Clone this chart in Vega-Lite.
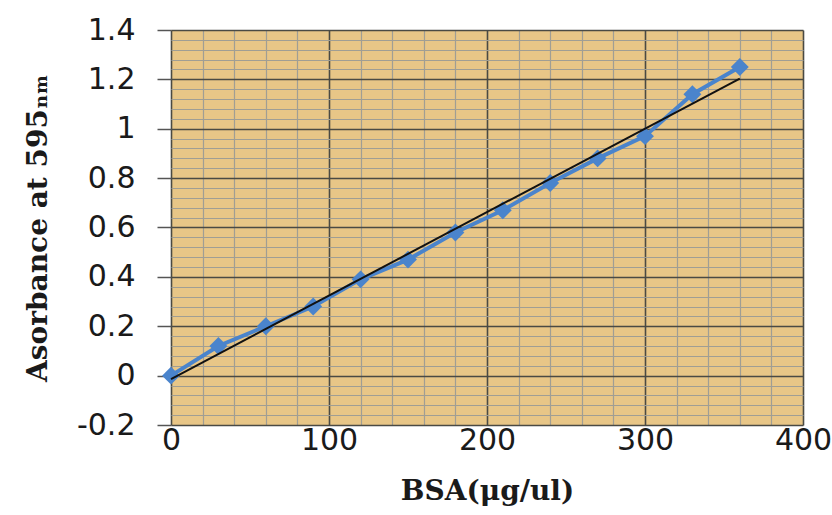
{
  "$schema": "https://vega.github.io/schema/vega-lite/v6.json",
  "width": 632,
  "height": 395,
  "autosize": {"type": "none"},
  "padding": {"left": 171, "top": 30, "right": 29, "bottom": 90},
  "background": "white",
  "view": {"fill": "#E8C687", "stroke": null},
  "data": {
    "values": [
      {"bsa": 0, "abs": 0},
      {"bsa": 30, "abs": 0.12},
      {"bsa": 60, "abs": 0.2},
      {"bsa": 90, "abs": 0.28},
      {"bsa": 120, "abs": 0.39},
      {"bsa": 150, "abs": 0.47},
      {"bsa": 180, "abs": 0.58},
      {"bsa": 210, "abs": 0.67},
      {"bsa": 240, "abs": 0.78},
      {"bsa": 270, "abs": 0.88},
      {"bsa": 300, "abs": 0.97},
      {"bsa": 330, "abs": 1.14},
      {"bsa": 360, "abs": 1.25}
    ]
  },
  "encoding": {
    "x": {
      "field": "bsa",
      "type": "quantitative",
      "scale": {"domain": [0, 400], "nice": false, "zero": false},
      "axis": {
        "values": [0, 20, 40, 60, 80, 100, 120, 140, 160, 180, 200, 220, 240, 260, 280, 300, 320, 340, 360, 380, 400],
        "labelExpr": "datum.value % 100 === 0 ? datum.label : ''",
        "labelOverlap": false,
        "labelFlush": false,
        "labelFont": "DejaVu Sans",
        "labelFontSize": 30,
        "labelColor": "#1a1a1a",
        "labelPadding": 0,
        "ticks": false,
        "domain": false,
        "grid": true,
        "gridColor": {"condition": {"test": "datum.value % 100 === 0", "value": "#4a4a44"}, "value": "#a09e94"},
        "gridWidth": {"condition": {"test": "datum.value % 100 === 0", "value": 1.6}, "value": 1.2},
        "gridOpacity": 1,
        "title": "BSA(μg/ul)",
        "titleFont": "DejaVu Serif",
        "titleFontWeight": "bold",
        "titleFontSize": 28,
        "titleColor": "#1a1a1a",
        "titlePadding": 22
      }
    },
    "y": {
      "field": "abs",
      "type": "quantitative",
      "scale": {"domain": [-0.2, 1.4], "nice": false, "zero": false},
      "axis": {
        "values": [-0.2, -0.16, -0.12, -0.08, -0.04, 0, 0.04, 0.08, 0.12, 0.16, 0.2, 0.24, 0.28, 0.32, 0.36, 0.4, 0.44, 0.48, 0.52, 0.56, 0.6, 0.64, 0.68, 0.72, 0.76, 0.8, 0.84, 0.88, 0.92, 0.96, 1, 1.04, 1.08, 1.12, 1.16, 1.2, 1.24, 1.28, 1.32, 1.36, 1.4],
        "labelExpr": "abs(datum.value*5 - round(datum.value*5)) < 1e-6 ? '' + round(datum.value*10)/10 : ''",
        "labelOverlap": false,
        "labelFont": "DejaVu Sans",
        "labelFontSize": 30,
        "labelColor": "#1a1a1a",
        "labelPadding": 22,
        "ticks": true,
        "tickSize": 14,
        "tickWidth": 1.5,
        "tickColor": "#555555",
        "tickOpacity": {"condition": {"test": "abs(datum.value*5 - round(datum.value*5)) < 1e-6", "value": 1}, "value": 0},
        "domain": false,
        "grid": true,
        "gridColor": {"condition": {"test": "abs(datum.value*5 - round(datum.value*5)) < 1e-6", "value": "#4a4a44"}, "value": "#a09e94"},
        "gridWidth": {"condition": {"test": "abs(datum.value*5 - round(datum.value*5)) < 1e-6", "value": 1.6}, "value": 1.2},
        "gridOpacity": 1,
        "title": "Asorbance at 595ₙₘ",
        "titleFont": "DejaVu Serif",
        "titleFontWeight": "bold",
        "titleFontSize": 28,
        "titleColor": "#1a1a1a",
        "titlePadding": 24
      }
    }
  },
  "layer": [
    {
      "mark": {
        "type": "line",
        "color": "#4A84CC",
        "strokeWidth": 4,
        "point": {"shape": "diamond", "size": 320, "filled": true, "color": "#4A84CC", "opacity": 1}
      }
    },
    {
      "transform": [{"regression": "abs", "on": "bsa", "extent": [0, 360]}],
      "mark": {"type": "line", "color": "#111111", "strokeWidth": 2}
    }
  ]
}
